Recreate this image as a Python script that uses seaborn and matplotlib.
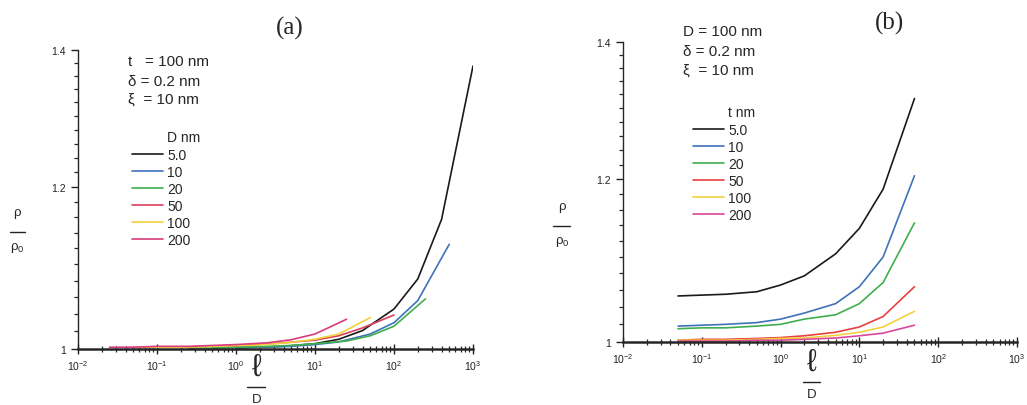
""" Resistivity ratio vs l/D, two panels """

import numpy as np
import pandas as pd
import matplotlib
matplotlib.use('Agg')
import matplotlib.pyplot as plt
import seaborn as sns
from matplotlib.lines import Line2D
from matplotlib.ticker import FixedLocator, FixedFormatter, NullFormatter, LogLocator

# ---- data ----
# panel (a): t = 100 nm, one curve per grain size D
D_labels = ['5.0', '10', '20', '50', '100', '200']
a_x = [
    [1, 2, 4, 10, 20, 40, 100, 200, 400, 1000],
    [0.5, 1, 2, 5, 10, 20, 50, 100, 200, 500],
    [0.25, 0.5, 1, 2.5, 5, 10, 25, 50, 100, 250],
    [0.1, 0.2, 0.4, 1, 2, 4, 10, 20, 40, 100],
    [0.05, 0.1, 0.2, 0.5, 1, 2, 5, 10, 20, 50],
    [0.025, 0.05, 0.1, 0.25, 0.5, 1, 2.5, 5, 10, 25],
]
a_y = [
    [1.001, 1.002, 1.003, 1.006, 1.011, 1.021, 1.046, 1.082, 1.157, 1.375],
    [1.001, 1.002, 1.002, 1.003, 1.005, 1.008, 1.017, 1.030, 1.056, 1.125],
    [1.001, 1.001, 1.002, 1.003, 1.004, 1.006, 1.009, 1.015, 1.026, 1.058],
    [1.002, 1.002, 1.003, 1.004, 1.005, 1.007, 1.010, 1.015, 1.024, 1.039],
    [1.002, 1.002, 1.002, 1.003, 1.004, 1.0045, 1.0075, 1.011, 1.017, 1.036],
    [1.002, 1.002, 1.003, 1.003, 1.004, 1.005, 1.007, 1.0105, 1.017, 1.034],
]

# panel (b): D = 100 nm, one curve per film thickness t
t_labels = ['5.0', '10', '20', '50', '100', '200']
b_x = [0.05, 0.1, 0.2, 0.5, 1, 2, 5, 10, 20, 50]
b_y = [
    [1.053, 1.054, 1.055, 1.058, 1.066, 1.077, 1.104, 1.136, 1.187, 1.314],
    [1.018, 1.019, 1.020, 1.022, 1.026, 1.033, 1.044, 1.064, 1.100, 1.205],
    [1.015, 1.016, 1.016, 1.018, 1.020, 1.026, 1.031, 1.044, 1.069, 1.143],
    [1.002, 1.003, 1.003, 1.004, 1.005, 1.007, 1.011, 1.017, 1.029, 1.064],
    [1.002, 1.002, 1.002, 1.003, 1.004, 1.0045, 1.0075, 1.011, 1.017, 1.035],
    [1.001, 1.001, 1.001, 1.002, 1.002, 1.003, 1.0045, 1.007, 1.010, 1.019],
]

colors_a = ['#1a1a1a', '#3f72b8', '#3fae4e', '#d8405c', '#f2d23c', '#d93c7c']
colors_b = ['#1a1a1a', '#3f72b8', '#3fae4e', '#e8403e', '#f2d23c', '#d9489c']

sns.set_style('ticks')
plt.rcParams['font.family'] = ['Liberation Sans', 'DejaVu Sans']
plt.rcParams['mathtext.default'] = 'regular'


def long_frame(xs, ys, labels):
    rows = []
    for xv, yv, lab in zip(xs, ys, labels):
        for a, b in zip(xv, yv):
            rows.append((a, b, lab))
    return pd.DataFrame(rows, columns=['x', 'y', 'series'])


df_a = long_frame(a_x, a_y, D_labels)
df_b = long_frame([b_x] * len(b_y), b_y, t_labels)

W, H = 1027, 406
fig = plt.figure(figsize=(W / 100, H / 100), dpi=100)
ax_a = fig.add_axes([78 / W, 1 - 350 / H, 395 / W, 299 / H])
ax_b = fig.add_axes([623 / W, 1 - 343 / H, 394 / W, 300 / H])


def style_axis(ax):
    ax.set_xscale('log')
    ax.set_yscale('log')
    ax.set_xlim(1e-2, 1e3)
    ax.set_ylim(1.0, 1.4)
    ax.xaxis.set_major_locator(LogLocator(base=10, numticks=10))
    ax.xaxis.set_minor_locator(LogLocator(base=10, subs=np.arange(2, 10), numticks=20))
    ax.xaxis.set_minor_formatter(NullFormatter())
    ax.yaxis.set_major_locator(FixedLocator([1.0, 1.2, 1.4]))
    ax.yaxis.set_major_formatter(FixedFormatter(['1', '1.2', '1.4']))
    ax.yaxis.set_minor_locator(FixedLocator(np.arange(1.02, 1.395, 0.02)))
    ax.yaxis.set_minor_formatter(NullFormatter())
    for s in ['top', 'right']:
        ax.spines[s].set_visible(False)
    ax.spines['left'].set_linewidth(1.0)
    ax.spines['bottom'].set_linewidth(1.8)
    ax.tick_params(axis='both', which='major', labelsize=7.5, length=5, width=1.0,
                   color='#222222', labelcolor='#222222')
    ax.tick_params(axis='x', which='major', direction='inout', length=7, pad=3)
    ax.tick_params(axis='x', which='minor', direction='inout', length=4, width=0.9)
    ax.tick_params(axis='y', which='minor', direction='out', length=3, width=0.9)
    ax.set_xlabel('')
    ax.set_ylabel('')


sns.lineplot(data=df_a, x='x', y='y', hue='series', palette=colors_a, hue_order=D_labels,
             estimator=None, sort=False, linewidth=1.2, legend=False, ax=ax_a)
sns.lineplot(data=df_b, x='x', y='y', hue='series', palette=colors_b, hue_order=t_labels,
             estimator=None, sort=False, linewidth=1.2, legend=False, ax=ax_b)
style_axis(ax_a)
style_axis(ax_b)


def fx(px):
    return px / W


def fy(py):
    return 1 - py / H


# panel titles
fig.text(fx(290), fy(28), '(a)', ha='center', va='center', fontsize=18,
         family=['Liberation Serif', 'DejaVu Serif'])
fig.text(fx(890), fy(23), '(b)', ha='center', va='center', fontsize=18,
         family=['Liberation Serif', 'DejaVu Serif'])

# parameter blocks
for txt, py in zip(['t   = 100 nm', 'δ = 0.2 nm', 'ξ  = 10 nm'], [62, 82, 100]):
    fig.text(fx(128), fy(py), txt, ha='left', va='center', fontsize=11)
for txt, py in zip(['D = 100 nm', 'δ = 0.2 nm', 'ξ  = 10 nm'], [32, 52, 71]):
    fig.text(fx(683), fy(py), txt, ha='left', va='center', fontsize=11)

# legends
def add_legend(ax, labels, colors, title, x0, y_title):
    handles = [Line2D([], [], color=c, lw=1.2) for c in colors]
    fig.text(fx(x0 + 35), fy(y_title), title, ha='left', va='center', fontsize=10)
    ax.legend(handles, labels, loc='upper left', frameon=False, fontsize=10,
              bbox_to_anchor=(fx(x0), fy(y_title + 11)), bbox_transform=fig.transFigure,
              borderpad=0, borderaxespad=0, handlelength=2.25, handletextpad=0.3,
              labelspacing=0.22)


add_legend(ax_a, D_labels, colors_a, 'D nm', 132, 138)
add_legend(ax_b, t_labels, colors_b, 't nm', 693, 113)

# y labels: rho over rho_0
for xc, py_top, x0, x1 in [(17, 213, 10, 25), (562, 207, 553, 570)]:
    fig.text(fx(xc), fy(py_top), 'ρ', ha='center', va='center', fontsize=9.5)
    fig.add_artist(Line2D([fx(x0), fx(x1)], [fy(py_top + 20), fy(py_top + 20)],
                          color='#222222', lw=1.0))
    fig.text(fx(xc), fy(py_top + 35), '$ρ_0$', ha='center', va='center', fontsize=9.5)

# x labels: l over D
for xc, py_top, x0, x1 in [(257, 368, 247, 265), (812, 363, 803, 820)]:
    fig.text(fx(xc), fy(py_top), r'$\ell$', ha='center', va='center', fontsize=22,
             math_fontfamily='dejavusans')
    fig.add_artist(Line2D([fx(x0), fx(x1)], [fy(py_top + 20), fy(py_top + 20)],
                          color='#222222', lw=1.0))
    fig.text(fx(xc), fy(py_top + 32), 'D', ha='center', va='center', fontsize=9.5)

fig.savefig('out.png', dpi=100)
